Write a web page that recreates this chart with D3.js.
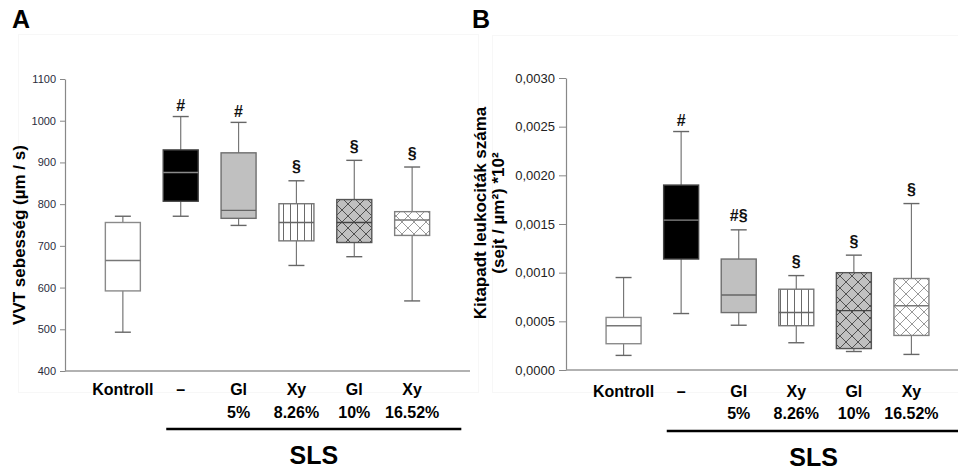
<!DOCTYPE html>
<html>
<head>
<meta charset="utf-8">
<script src="https://cdn.jsdelivr.net/npm/d3@7"></script>
<style>
  body { margin: 0; background: #fff; }
  svg { display: block; font-family: Arial, "Liberation Sans", sans-serif; }
</style>
</head>
<body>
<svg width="958" height="471"></svg>
<script>
// categories and label lines
var categories = ["Kontroll", "–", "Gl 5%", "Xy 8.26%", "Gl 10%", "Xy 16.52%"];
var catLine1   = ["Kontroll", "–", "Gl", "Xy", "Gl", "Xy"];
var catLine2   = ["", "", "5%", "8.26%", "10%", "16.52%"];

// panel A: VVT sebesség (µm / s)
var aMax   = [771, 1010, 996, 856, 905, 889];
var aQ3    = [756, 930, 923, 801, 811, 782];
var aMed   = [665, 876, 785, 756, 756, 762];
var aQ1    = [592, 807, 766, 712, 708, 725];
var aMin   = [493, 771, 749, 653, 674, 568];
var aMarks = ["", "#", "#", "§", "§", "§"];
var aTicks = [400, 500, 600, 700, 800, 900, 1000, 1100];

// panel B: kitapadt leukociták száma
var bMax   = [0.00095, 0.00245, 0.00144, 0.00097, 0.00118, 0.00171];
var bQ3    = [0.00054, 0.00190, 0.00114, 0.00083, 0.00100, 0.00094];
var bMed   = [0.000455, 0.00154, 0.00077, 0.00059, 0.00061, 0.00066];
var bQ1    = [0.00027, 0.00114, 0.00059, 0.000455, 0.00022, 0.000355];
var bMin   = [0.00015, 0.00058, 0.00046, 0.00028, 0.00019, 0.00016];
var bMarks = ["", "#", "#§", "§", "§", "§"];
var bTicks = [0, 0.0005, 0.0010, 0.0015, 0.0020, 0.0025, 0.0030];

var svg = d3.select("svg");

var boxFill   = ["#ffffff", "#000000", "#c0c0c0", "url(#vl)", "url(#xhGray)", "url(#xhWhite)"],
    boxStroke = ["#8a8a8a", "#444444", "#6e6e6e", "#777777", "#555555", "#808080"],
    medStroke = ["#777777", "#8a8a8a", "#666666", "#666666", "#444444", "#777777"];

// patterns
var defs = svg.append("defs");
var vl = defs.append("pattern").attr("id", "vl").attr("patternUnits", "userSpaceOnUse")
    .attr("width", 7).attr("height", 10);
vl.append("rect").attr("width", 7).attr("height", 10).attr("fill", "#fff");
vl.append("line").attr("x1", 3.5).attr("x2", 3.5).attr("y1", 0).attr("y2", 10)
    .attr("stroke", "#6a6a6a").attr("stroke-width", 1);

function crossHatch(id, bg, fg) {
  var p = defs.append("pattern").attr("id", id).attr("patternUnits", "userSpaceOnUse")
      .attr("width", 12).attr("height", 12);
  p.append("rect").attr("width", 12).attr("height", 12).attr("fill", bg);
  p.append("path").attr("d", "M0,0 L12,12 M12,0 L0,12 M-1,11 L1,13 M11,-1 L13,1")
      .attr("stroke", fg).attr("stroke-width", 1).attr("fill", "none");
}
crossHatch("xhGray", "#c0c0c0", "#505050");
crossHatch("xhWhite", "#ffffff", "#9a9a9a");

// faint panel frames
svg.append("rect").attr("x", 18.5).attr("y", 34.5).attr("width", 460).attr("height", 358)
    .attr("fill", "none").attr("stroke", "#f7f7f7");
svg.append("rect").attr("x", 492.5).attr("y", 35.5).attr("width", 480).attr("height", 357)
    .attr("fill", "none").attr("stroke", "#f7f7f7");

function drawPanel(o) {
  var g = svg.append("g");
  var x = d3.scalePoint().domain(categories).range(o.xRange).padding(1);
  var y = d3.scaleLinear().domain(o.yDomain).range(o.yRange);
  var step = x.step(), bw = 35, cw = 16;

  // y axis
  var ya = g.append("g").attr("transform", "translate(" + o.xRange[0] + ",0)")
      .call(d3.axisLeft(y).tickValues(o.ticks).tickFormat(o.fmt)
        .tickSize(o.tickLen).tickSizeOuter(0).tickPadding(4));
  ya.select(".domain").attr("stroke", "#888").attr("stroke-width", 1.2);
  ya.selectAll(".tick line").attr("stroke", "#888");
  ya.selectAll(".tick text").attr("font-size", o.tickFont).attr("fill", o.tickColor)
      .attr("font-family", "Arial, 'Liberation Sans', sans-serif");

  // x axis line
  g.append("line").attr("x1", o.xRange[0]).attr("x2", o.xRange[1])
      .attr("y1", o.yRange[0]).attr("y2", o.yRange[0])
      .attr("stroke", "#999").attr("stroke-width", 1.5);

  var idx = d3.range(categories.length);
  var box = g.selectAll(".box").data(idx).join("g").attr("class", "box");

  // whiskers
  box.append("line")
      .attr("x1", i => x(categories[i])).attr("x2", i => x(categories[i]))
      .attr("y1", i => y(o.max[i])).attr("y2", i => y(o.min[i]))
      .attr("stroke", "#777").attr("stroke-width", 1.2);
  [o.max, o.min].forEach(function (arr) {
    box.append("line")
        .attr("x1", i => x(categories[i]) - cw / 2).attr("x2", i => x(categories[i]) + cw / 2)
        .attr("y1", i => y(arr[i])).attr("y2", i => y(arr[i]))
        .attr("stroke", "#666").attr("stroke-width", 1.4);
  });

  box.append("rect")
      .attr("x", i => x(categories[i]) - bw / 2).attr("width", bw)
      .attr("y", i => y(o.q3[i])).attr("height", i => y(o.q1[i]) - y(o.q3[i]))
      .attr("fill", i => boxFill[i]).attr("stroke", i => boxStroke[i]).attr("stroke-width", 1.4);
  box.append("line")
      .attr("x1", i => x(categories[i]) - bw / 2).attr("x2", i => x(categories[i]) + bw / 2)
      .attr("y1", i => y(o.med[i])).attr("y2", i => y(o.med[i]))
      .attr("stroke", i => medStroke[i]).attr("stroke-width", 1.4);

  // significance marks
  box.append("text")
      .attr("x", i => x(categories[i]))
      .attr("y", i => y(o.max[i]) - (o.marks[i].indexOf("§") >= 0 ? 8.5 : 5.5))
      .attr("text-anchor", "middle").attr("font-weight", "bold").attr("font-size", 16)
      .attr("fill", "#111").text(i => o.marks[i]);

  // category labels
  g.selectAll(".c1").data(idx).join("text").attr("class", "c1")
      .attr("x", i => x(categories[i])).attr("y", o.labY[0])
      .attr("text-anchor", "middle").attr("font-weight", "bold").attr("font-size", 16)
      .text(i => catLine1[i]);
  g.selectAll(".c2").data(idx).join("text").attr("class", "c2")
      .attr("x", i => x(categories[i])).attr("y", o.labY[1])
      .attr("text-anchor", "middle").attr("font-weight", "bold").attr("font-size", 16)
      .text(i => catLine2[i]);

  // SLS bracket
  var s0 = x(categories[1]) - 0.25 * step, s1 = x(categories[5]) + 0.85 * step;
  g.append("line").attr("x1", s0).attr("x2", s1).attr("y1", o.slsY).attr("y2", o.slsY)
      .attr("stroke", "#000").attr("stroke-width", 2.5);
  g.append("text").attr("x", (s0 + s1) / 2).attr("y", o.slsY + 35)
      .attr("text-anchor", "middle").attr("font-weight", "bold").attr("font-size", 25)
      .text("SLS");

  // y title
  var t = g.append("text").attr("transform", "translate(" + o.titleX + "," + o.titleY + ") rotate(-90)")
      .attr("text-anchor", "middle").attr("font-weight", "bold").attr("font-size", 17);
  o.title.forEach(function (line, k) {
    t.append("tspan").attr("x", 0).attr("dy", k === 0 ? "0.35em" : 18).text(line);
  });

  // panel letter
  g.append("text").attr("x", o.letterX).attr("y", 28).attr("font-weight", "bold")
      .attr("font-size", 25).text(o.letter);
}

drawPanel({
  xRange: [65, 470], yDomain: [400, 1100], yRange: [371, 79],
  ticks: aTicks, fmt: d3.format("d"), tickLen: 5, tickFont: 11, tickColor: "#2a2c3c",
  max: aMax, q3: aQ3, med: aMed, q1: aQ1, min: aMin, marks: aMarks,
  labY: [395, 418], slsY: 429,
  title: ["VVT sebesség (µm / s)"], titleX: 19, titleY: 235,
  letter: "A", letterX: 12
});

drawPanel({
  xRange: [566, 969], yDomain: [0, 0.003], yRange: [370, 78],
  ticks: bTicks, fmt: d => d3.format(".4f")(d).replace(".", ","), tickLen: 7, tickFont: 13,
  tickColor: "#222",
  max: bMax, q3: bQ3, med: bMed, q1: bQ1, min: bMin, marks: bMarks,
  labY: [397, 419], slsY: 431,
  title: ["Kitapadt leukociták száma", "(sejt / µm²) *10²"], titleX: 480, titleY: 213,
  letter: "B", letterX: 472
});
</script>
</body>
</html>
